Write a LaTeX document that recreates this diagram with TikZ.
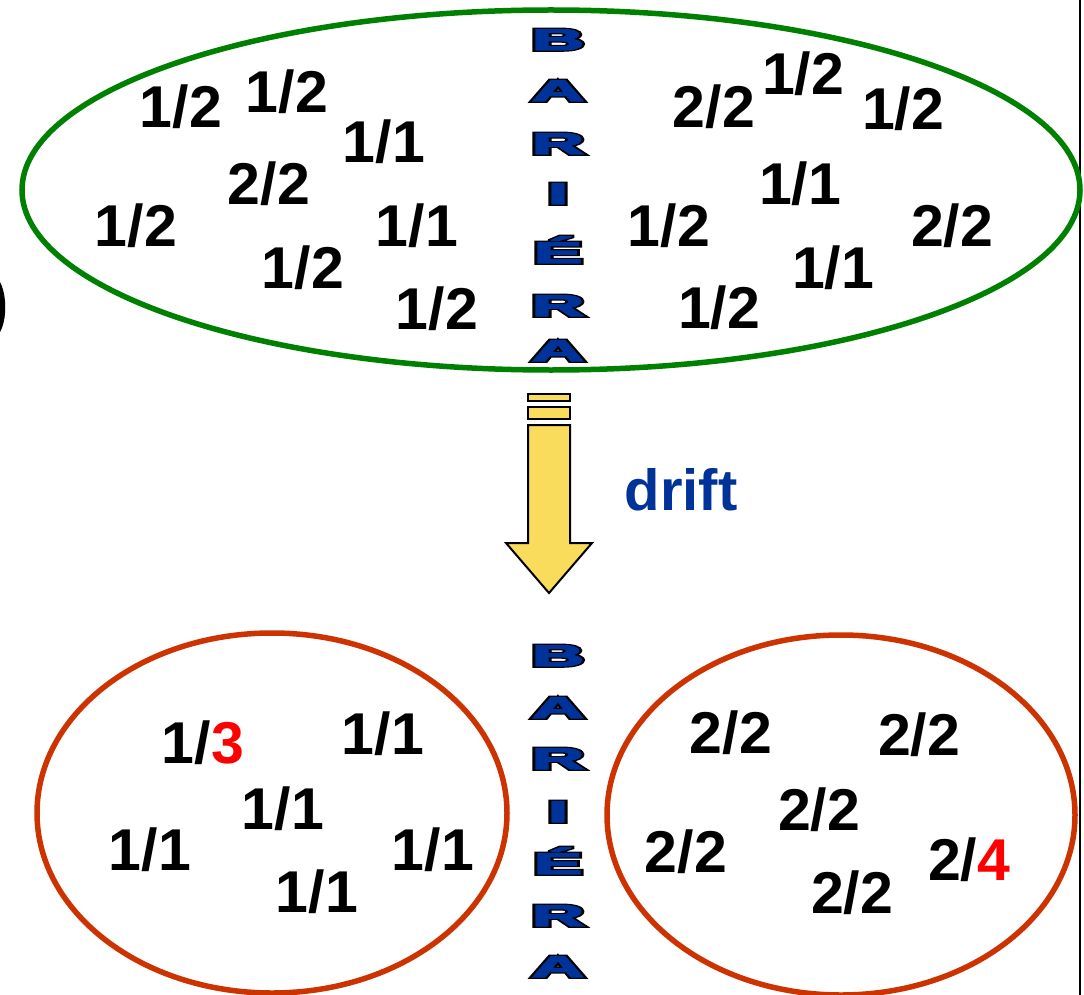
\documentclass[tikz,border=0pt]{standalone}
\usepackage{fontspec}
\setmainfont{Liberation Sans}
\newfontfamily\numfont{Liberation Sans Bold}
\newfontfamily\wallout{Liberation Sans Bold}[FakeBold=12]
\newfontfamily\wallin{Liberation Sans Bold}[FakeBold=4]
\definecolor{wallblue}{RGB}{0,51,153}
\definecolor{ringgreen}{RGB}{0,128,0}
\definecolor{ringred}{RGB}{204,51,0}
\definecolor{arrowyellow}{RGB}{249,220,92}
\definecolor{hotred}{RGB}{255,0,0}
\begin{document}
\begin{tikzpicture}[x=1pt,y=-1pt,line join=miter,
  num/.style={font=\numfont\fontsize{59}{60}\selectfont,anchor=base,inner sep=0pt},
  wallback/.style={font=\wallout\fontsize{30}{31}\selectfont,anchor=base,inner sep=0pt,
    text=black,xscale=2.4},
  wallfront/.style={font=\wallin\fontsize{30}{31}\selectfont,anchor=base,inner sep=0pt,
    text=wallblue,xscale=2.4},
  ring/.style={line width=5.5pt}]
\useasboundingbox (0,0) rectangle (1084,995);
%%
  % Frame: right edge and cut-off bracket
  \draw [line width=2.5pt] (1080,0) -- (1080,995);
  \fill (0,282) .. controls (7,295) and (7,320) .. (0,332) -- cycle;
  % Ellipse: before drift
  \draw [ring,ringgreen] (551,190) ellipse (529 and 180);
  % Ellipses: after drift
  \draw [ring,ringred] (272,813) ellipse (235 and 180);
  \draw [ring,ringred] (841,815) ellipse (234 and 180);
  % Node: top left half
  \node [num] (tl1) at (181,128) {1/2};
  \node [num] (tl2) at (287,113) {1/2};
  \node [num] (tl3) at (384,163) {1/1};
  \node [num] (tl4) at (269,205) {2/2};
  \node [num] (tl5) at (136,246) {1/2};
  \node [num] (tl6) at (417,246) {1/1};
  \node [num] (tl7) at (303,288) {1/2};
  \node [num] (tl8) at (437,329) {1/2};
  % Node: top right half
  \node [num] (tr1) at (714,128) {2/2};
  \node [num] (tr2) at (803,95) {1/2};
  \node [num] (tr3) at (903,130) {1/2};
  \node [num] (tr4) at (800,205) {1/1};
  \node [num] (tr5) at (669,246) {1/2};
  \node [num] (tr6) at (952,246) {2/2};
  \node [num] (tr7) at (833,288) {1/1};
  \node [num] (tr8) at (719,328) {1/2};
  % Node: bottom left ring
  \node [num] (bl1) at (203,763) {1/\textcolor{hotred}{3}};
  \node [num] (bl2) at (383,754) {1/1};
  \node [num] (bl3) at (283,829) {1/1};
  \node [num] (bl4) at (150,870) {1/1};
  \node [num] (bl5) at (433,870) {1/1};
  \node [num] (bl6) at (317,912) {1/1};
  % Node: bottom right ring
  \node [num] (br1) at (731,753) {2/2};
  \node [num] (br2) at (919,755) {2/2};
  \node [num] (br3) at (819,830) {2/2};
  \node [num] (br4) at (686,872) {2/2};
  \node [num] (br5) at (969,880) {2/\textcolor{hotred}{4}};
  \node [num] (br6) at (852,913) {2/2};
  % Node: barrier letters, top and bottom
  \foreach \l/\y [count=\i] in {B/50,A/101,R/154,I/204,É/263,R/316,A/361} {
    \node [wallback] (wt\i o) at (558,\y) {\l};
    \node [wallfront] (wt\i) at (558,\y) {\l};
  }
  \foreach \l/\y [count=\i] in {B/666,A/718,R/769,I/822,É/874,R/926,A/977} {
    \node [wallback] (wb\i o) at (558,\y) {\l};
    \node [wallfront] (wb\i) at (558,\y) {\l};
  }
  % Arrow: drift
  \draw [line width=2pt,fill=arrowyellow] (528,394) rectangle (570,401);
  \draw [line width=2pt,fill=arrowyellow] (528,407) rectangle (570,419);
  \draw [line width=2pt,fill=arrowyellow] (528,425) -- (570,425) -- (570,543) -- (592,543)
    -- (549,593) -- (506,543) -- (528,543) -- cycle;
  \node [num,font=\numfont\fontsize{58}{60}\selectfont,text=wallblue] (drift) at (681,510) {drift};
%
\end{tikzpicture}
\end{document}
